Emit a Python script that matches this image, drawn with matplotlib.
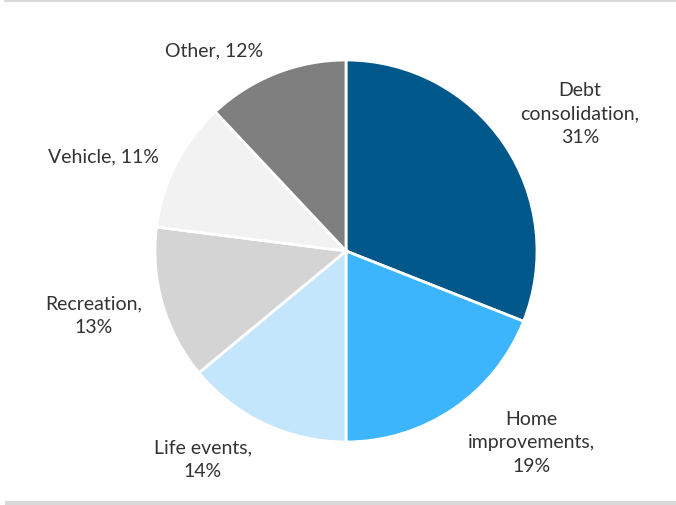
import matplotlib.pyplot as plt

# loan purpose breakdown, clockwise from 12 o'clock
purposes = ["Debt\nconsolidation", "Home\nimprovements", "Life events",
            "Recreation", "Vehicle", "Other"]
shares = [31, 19, 14, 13, 11, 12]
colors = ["#00578a", "#3db5fc", "#c3e6fd", "#d4d4d4", "#f2f2f2", "#7f7f7f"]

# percentage on its own line for the longer names
pct_sep = ["\n", "\n", "\n", "\n", " ", " "]
# where each label sits (in units of the pie radius)
label_xy = [(1.225, 0.717), (0.969, -1.005), (-0.749, -1.094),
            (-1.319, -0.340), (-1.272, 0.492), (-0.691, 1.047)]

plt.rcParams["font.family"] = ["Lato", "DejaVu Sans"]

W, H = 676, 505
cx, cy, r = 346, 251, 191
fig = plt.figure(figsize=(W / 100, H / 100), dpi=100)
ax = fig.add_axes([(cx - r) / W, (H - cy - r) / H, 2 * r / W, 2 * r / H])

labels = [f"{n},{sep}{s}%" for n, sep, s in zip(purposes, pct_sep, shares)]

wedges, texts = ax.pie(shares, colors=colors, startangle=90, counterclock=False,
                       labels=labels, radius=1,
                       wedgeprops=dict(edgecolor="white", linewidth=2))
for t, (x, y) in zip(texts, label_xy):
    t.set_position((x, y))
    t.set_ha("center")
    t.set_va("center")
    t.set_multialignment("center")
    t.set_fontsize(14)
    t.set_color("#333333")
    t.set_linespacing(1.45)

ax.set_xlim(-1, 1)
ax.set_ylim(-1, 1)
ax.set_aspect("equal")
ax.axis("off")

# thin rule on top, thicker band at the bottom
fig.add_artist(plt.Line2D([5 / W, 1], [1 - 1 / H, 1 - 1 / H], color="#d9d9d9", lw=1.5))
fig.add_artist(plt.Rectangle((5 / W, 0), 1, 4 / H, color="#d9d9d9", lw=0))

fig.savefig("out.png", dpi=100)
